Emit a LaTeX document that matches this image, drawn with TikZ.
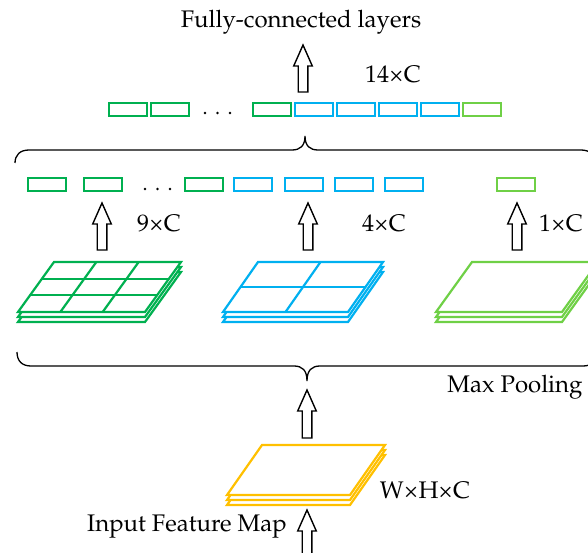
\documentclass[tikz,border=0pt]{standalone}
\usepackage[T1]{fontenc}
\usepackage{mathpazo}
\usepackage{textcomp}
\usetikzlibrary{calc}

\definecolor{mapgreen}{HTML}{00B050}
\definecolor{mapblue}{HTML}{00B0F0}
\definecolor{maplime}{HTML}{6FD046}
\definecolor{mapgold}{HTML}{FFC000}

\tikzset{
  cellbox/.style={draw, line width=2pt, minimum width=38pt, minimum height=13pt, inner sep=0pt},
  label/.style={inner sep=0pt, font=\fontsize{24}{28}\selectfont},
  arrowblock/.style={draw=black, fill=white, line width=1.4pt, line join=miter},
  bracepath/.style={draw=black, line width=1.3pt},
  maplayer/.style={line width=2.2pt, fill=white},
  dotmark/.style={fill=black}
}

% hollow block arrow from a base coordinate up to a tip coordinate
\newcommand{\blockarrow}[2]{%
  \draw[arrowblock] let \p1=(#1), \p2=(#2) in
    (\x2,\y2) -- (\x2+9.3pt,\y2-21pt) -- (\x2+4.8pt,\y2-21pt) --
    (\x2+4.8pt,\y1) -- (\x2-4.8pt,\y1) -- (\x2-4.8pt,\y2-21pt) --
    (\x2-9.3pt,\y2-21pt) -- cycle;}

% stack of three feature-map sheets with an n x n grid on the top sheet
% #1 colour, #2 x of lower left corner, #3 y of lower edge, #4 width, #5 slant, #6 grid size
\newcommand{\featurestack}[6]{%
  \foreach \k in {10,5,0}{
    \draw[maplayer, draw=#1] (#2,#3+\k) -- ++(#4,0) -- ++(#5,-50) -- ++(-#4,0) -- cycle;
  }
  \ifnum#6>1
  \foreach \i in {1,...,\numexpr#6-1\relax}{
    \draw[line width=2.2pt, #1] (#2+#5*\i/#6, #3-50*\i/#6) -- ++(#4,0);
    \draw[line width=2.2pt, #1] (#2+#4*\i/#6, #3) -- ++(#5,-50);
  }
  \fi}

\begin{document}
\begin{tikzpicture}[x=1pt, y=-1pt]
  \useasboundingbox (0,0) rectangle (588,553);
  \clip (0,0) rectangle (588,553);

  % ---- concatenated output vector
  \node[cellbox, mapgreen] (t1) at (128,109.5) {};
  \node[cellbox, mapgreen] (t2) at (170,109.5) {};
  \foreach \xx in {205,217.5,230} \fill[dotmark] (\xx,113) circle (1.3);
  \node[cellbox, mapgreen] (t3) at (272,109.5) {};
  \node[cellbox, mapblue]  (t4) at (314,109.5) {};
  \node[cellbox, mapblue]  (t5) at (356,109.5) {};
  \node[cellbox, mapblue]  (t6) at (398,109.5) {};
  \node[cellbox, mapblue]  (t7) at (440,109.5) {};
  \node[cellbox, maplime]  (t8) at (482,109.5) {};

  \node[label] (fc) at (301,22) {Fully-connected layers};
  \node[label] (n14) at (393,74) {14\texttimes C};
  \coordinate (fcbase) at (303,92);
  \coordinate (fctip) at (303,45);
  \blockarrow{fcbase}{fctip}

  % ---- upper brace
  \draw[bracepath] (15,163) .. controls (15,155) and (20,150) .. (29,150) -- (292,150)
    .. controls (300,150) and (305,146) .. (305,136)
    .. controls (305,146) and (310,150) .. (318,150) -- (581,150)
    .. controls (590,150) and (595,155) .. (595,163);

  % ---- pooled vectors
  \node[cellbox, mapgreen] (m1) at (47,184.5) {};
  \node[cellbox, mapgreen] (m2) at (103,184.5) {};
  \foreach \xx in {145,157.5,170} \fill[dotmark] (\xx,189) circle (1.3);
  \node[cellbox, mapgreen] (m3) at (204,184.5) {};
  \node[cellbox, mapblue]  (m4) at (253,184.5) {};
  \node[cellbox, mapblue]  (m5) at (304,184.5) {};
  \node[cellbox, mapblue]  (m6) at (354,184.5) {};
  \node[cellbox, mapblue]  (m7) at (404,184.5) {};
  \node[cellbox, maplime]  (m8) at (516,184.5) {};

  \node[label] (n9) at (159,223) {9\texttimes C};
  \node[label] (n4) at (384,223) {4\texttimes C};
  \node[label] (n1) at (561,223) {1\texttimes C};

  \coordinate (a9base) at (102,250);  \coordinate (a9tip) at (102,203);
  \coordinate (a4base) at (308,250);  \coordinate (a4tip) at (308,203);
  \coordinate (a1base) at (517,250);  \coordinate (a1tip) at (517,203);
  \blockarrow{a9base}{a9tip}
  \blockarrow{a4base}{a4tip}
  \blockarrow{a1base}{a1tip}

  % ---- pyramid levels
  \featurestack{mapgreen}{18}{312}{127}{36}{3}
  \featurestack{mapblue}{223}{312}{125}{35}{2}
  \featurestack{maplime}{436}{312}{126}{36}{1}

  % ---- lower brace
  \draw[bracepath] (17,352) .. controls (17,361) and (22,366) .. (31,366) -- (294,366)
    .. controls (302,366) and (307,370) .. (307,381)
    .. controls (307,370) and (312,366) .. (320,366) -- (583,366)
    .. controls (592,366) and (597,361) .. (597,352);
  \node[label] (mp) at (515,387) {Max Pooling};

  \coordinate (pbase) at (307,438);
  \coordinate (ptip) at (307,390);
  \blockarrow{pbase}{ptip}

  % ---- input feature map
  \featurestack{mapgold}{227}{495}{123}{35}{1}
  \node[label] (whc) at (425,490) {W\texttimes H\texttimes C};
  \node[label] (inp) at (187,527) {Input Feature Map};

  \coordinate (ibase) at (307,560);
  \coordinate (itip) at (307,510);
  \blockarrow{ibase}{itip}
\end{tikzpicture}
\end{document}
